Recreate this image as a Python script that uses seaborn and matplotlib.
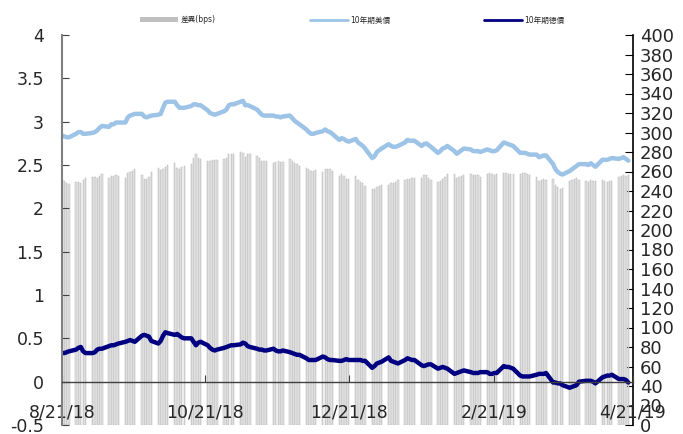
import pandas as pd
import numpy as np
import matplotlib
matplotlib.use("Agg")
import matplotlib.pyplot as plt
from matplotlib.patches import Patch
from matplotlib.lines import Line2D
import seaborn as sns

sns.set_style("white")
plt.rcParams['font.family'] = ['DejaVu Sans', 'Noto Sans CJK TC']

# trading days 8/21/18 - 4/19/19, one row per week (Mon..Fri)
dates = pd.bdate_range('2018-08-21', '2019-04-19')

us_10y = [
    2.84, 2.83, 2.82, 2.82,
    2.86, 2.88, 2.88, 2.86, 2.86,
    2.87, 2.88, 2.90, 2.93, 2.95,
    2.94, 2.97, 2.97, 2.99, 2.99,
    2.99, 3.05, 3.07, 3.08, 3.09,
    3.09, 3.06, 3.05, 3.06, 3.07,
    3.08, 3.09, 3.16, 3.22, 3.23,
    3.23, 3.19, 3.16, 3.16, 3.16,
    3.18, 3.20, 3.20, 3.19, 3.19,
    3.13, 3.10, 3.09, 3.08, 3.09,
    3.12, 3.14, 3.19, 3.20, 3.20,
    3.23, 3.24, 3.19, 3.19, 3.18,
    3.14, 3.11, 3.08, 3.07, 3.07,
    3.07, 3.06, 3.06, 3.05, 3.06,
    3.07, 3.04, 3.01, 2.99, 2.97,
    2.91, 2.88, 2.86, 2.86, 2.87,
    2.89, 2.91, 2.89, 2.88, 2.86,
    2.79, 2.81, 2.80, 2.78, 2.77,
    2.80, 2.76, 2.74, 2.72, 2.69,
    2.58, 2.60, 2.65, 2.67, 2.69,
    2.74, 2.72, 2.71, 2.71, 2.72,
    2.76, 2.79, 2.78, 2.78, 2.78,
    2.72, 2.74, 2.75, 2.73, 2.71,
    2.64, 2.66, 2.69, 2.70, 2.72,
    2.66, 2.63, 2.65, 2.67, 2.69,
    2.68, 2.66, 2.66, 2.66, 2.65,
    2.68, 2.67, 2.66, 2.66, 2.67,
    2.76, 2.75, 2.74, 2.73, 2.72,
    2.64, 2.64, 2.64, 2.63, 2.62,
    2.62, 2.59, 2.60, 2.61, 2.61,
    2.51, 2.45, 2.42, 2.40, 2.39,
    2.43, 2.45, 2.47, 2.49, 2.51,
    2.51, 2.50, 2.52, 2.50, 2.48,
    2.56, 2.56, 2.56, 2.57, 2.58,
    2.57, 2.58, 2.59, 2.57, 2.55,
]

de_10y = [
    0.33, 0.33, 0.34, 0.35,
    0.37, 0.39, 0.40, 0.35, 0.33,
    0.33, 0.34, 0.37, 0.38, 0.38,
    0.41, 0.42, 0.42, 0.43, 0.44,
    0.46, 0.47, 0.48, 0.47, 0.46,
    0.53, 0.54, 0.53, 0.52, 0.47,
    0.44, 0.47, 0.53, 0.57, 0.56,
    0.54, 0.55, 0.53, 0.51, 0.50,
    0.50, 0.46, 0.42, 0.45, 0.46,
    0.42, 0.39, 0.37, 0.36, 0.37,
    0.39, 0.40, 0.41, 0.42, 0.42,
    0.43, 0.45, 0.44, 0.41, 0.40,
    0.38, 0.37, 0.37, 0.36, 0.36,
    0.38, 0.36, 0.35, 0.35, 0.36,
    0.34, 0.33, 0.32, 0.31, 0.31,
    0.27, 0.25, 0.25, 0.25, 0.25,
    0.29, 0.28, 0.26, 0.25, 0.25,
    0.24, 0.24, 0.25, 0.26, 0.25,
    0.25, 0.25, 0.25, 0.24, 0.24,
    0.16, 0.18, 0.21, 0.22, 0.23,
    0.28, 0.24, 0.23, 0.22, 0.21,
    0.25, 0.27, 0.26, 0.25, 0.25,
    0.19, 0.18, 0.19, 0.20, 0.20,
    0.15, 0.16, 0.17, 0.16, 0.15,
    0.09, 0.10, 0.11, 0.12, 0.13,
    0.11, 0.10, 0.10, 0.10, 0.11,
    0.11, 0.09, 0.09, 0.10, 0.10,
    0.18, 0.17, 0.17, 0.16, 0.15,
    0.07, 0.06, 0.06, 0.06, 0.06,
    0.08, 0.09, 0.09, 0.09, 0.10,
    -0.01, -0.01, -0.02, -0.02, -0.04,
    -0.07, -0.06, -0.05, -0.04, 0.00,
    0.01, 0.01, 0.01, 0.00, -0.02,
    0.05, 0.06, 0.07, 0.07, 0.08,
    0.03, 0.03, 0.03, 0.02, -0.01,
]

x_tick_labels = ['8/21/18', '10/21/18', '12/21/18', '2/21/19', '4/21/19']
series_names = ['差異(bps)', '10年期美債', '10年期德債']

df = pd.DataFrame({'date': dates, 'us': us_10y, 'de': de_10y})
df['spread'] = (df['us'] - df['de']) * 100

fig = plt.figure(figsize=(6.83, 4.34), dpi=100)
ax = fig.add_axes([62/683, 9/434, 571/683, 390/434])
ax2 = ax.twinx()

# spread bars on the right axis, behind the yield lines
ax2.bar(df['date'], df['spread'], width=0.55, color='#e3e3e3',
        edgecolor='#b5b5b5', linewidth=0.35)
ax.set_zorder(ax2.get_zorder() + 1)
ax.patch.set_visible(False)

sns.lineplot(data=df, x='date', y='us', ax=ax, color='#9dc3e6', linewidth=3.2)
sns.lineplot(data=df, x='date', y='de', ax=ax, color='#000080', linewidth=3.2)

ax.set_xlim(pd.Timestamp('2018-08-21'), pd.Timestamp('2019-04-21'))
ax.set_ylim(-0.5, 4)
ax2.set_ylim(0, 400)

ax.set_yticks(np.arange(-0.5, 4.01, 0.5))
ax.set_yticklabels([f'{v:g}' for v in np.arange(-0.5, 4.01, 0.5)])
ax2.set_yticks(np.arange(0, 401, 20))

ax.set_xticks(pd.to_datetime(x_tick_labels, format='%m/%d/%y'))
ax.set_xticklabels(x_tick_labels)
ax.set_xlabel('')
ax.set_ylabel('')

for s in ['top', 'right']:
    ax.spines[s].set_visible(False)
ax.spines['left'].set_color('#808080')
ax.spines['left'].set_linewidth(1.5)
ax.spines['bottom'].set_position(('data', 0))
ax.spines['bottom'].set_color('#404040')
ax.spines['bottom'].set_linewidth(1)
for s in ['top', 'left', 'bottom']:
    ax2.spines[s].set_visible(False)
ax2.spines['right'].set_color('black')
ax2.spines['right'].set_linewidth(1.2)

ax.tick_params(axis='y', direction='in', length=5, color='#404040',
               labelsize=12.5, pad=13, left=True)
ax.tick_params(axis='x', direction='in', length=5, color='#404040',
               labelsize=12.5, pad=16, bottom=True)
ax2.tick_params(axis='y', direction='in', length=6, color='black',
                labelsize=13, pad=5, right=True)

handles = [Patch(facecolor='#bfbfbf', edgecolor='none'),
           Line2D([0], [0], color='#9dc3e6', linewidth=2),
           Line2D([0], [0], color='#000080', linewidth=2)]
fig.legend(handles, series_names, loc='center', bbox_to_anchor=(0.516, 0.954),
           ncol=3, frameon=False, fontsize=5.5, handlelength=5,
           handletextpad=0.3, columnspacing=12.3)

fig.savefig('out.png', dpi=100)
